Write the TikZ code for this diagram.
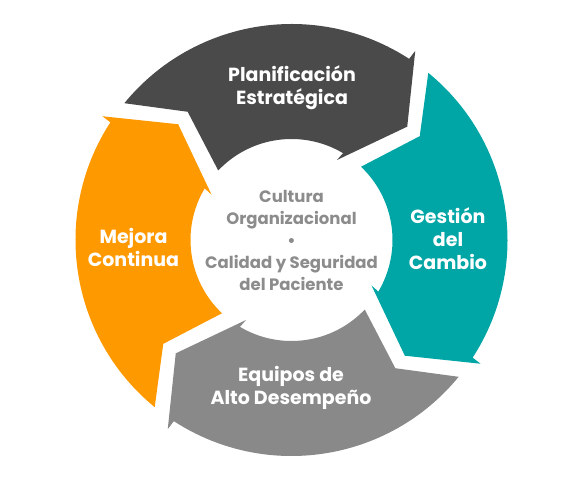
\documentclass[tikz,border=0pt]{standalone}
\usepackage{fontspec}
\setmainfont{Poppins}
\definecolor{plangray}{HTML}{4A4A4A}
\definecolor{changeteal}{HTML}{00A6A6}
\definecolor{teamgray}{HTML}{898989}
\definecolor{improveorange}{HTML}{FF9900}
\definecolor{coregray}{HTML}{8C8C8C}
\tikzstyle{arrowtext}=[text=white, font=\bfseries\fontsize{19}{23}\selectfont, align=center, inner sep=0pt]
\tikzstyle{coretext}=[text=coregray, font=\bfseries\fontsize{16.5}{22}\selectfont, align=center, inner sep=0pt]

% one curved block arrow of the cycle, turned by #1 degrees
\newcommand{\cyclearrow}[2]{%
  \begin{scope}[shift={(hub)}, rotate=#1]
    \fill[#2] (140.7:216) arc[start angle=140.7, end angle=57, radius=216]
      -- (56.8:226) -- (44.4:162) -- (60.4:92) -- (59.3:101)
      arc[start angle=59.3, end angle=136.5, radius=101] -- (129:165) -- cycle;
  \end{scope}}

\begin{document}
\begin{tikzpicture}[x=1pt, y=1pt]
	\useasboundingbox (0,0) rectangle (584,482);
	\coordinate (hub) at (291.5,242);
	\cyclearrow{0}{plangray}
	\cyclearrow{-90}{changeteal}
	\cyclearrow{180}{teamgray}
	\cyclearrow{90}{improveorange}
	\node[arrowtext] (plan) at (292,394) {Planificación\\Estratégica};
	\node[arrowtext] (change) at (448,243) {Gestión\\del\\Cambio};
	\node[arrowtext] (team) at (291,94) {Equipos de\\Alto Desempeño};
	\node[arrowtext] (improve) at (133.5,235) {Mejora\\Continua};
	\node[coretext] (core) at (hub) {Cultura\\Organizacional\\•\\Calidad y Seguridad\\del Paciente};
\end{tikzpicture}
\end{document}
